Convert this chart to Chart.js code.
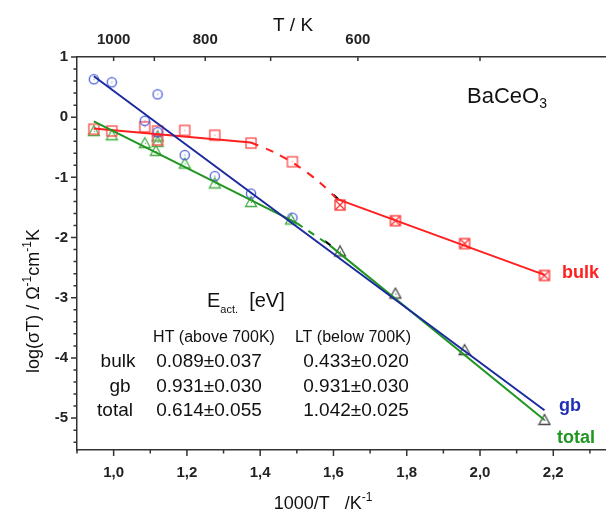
<!DOCTYPE html>
<html>
<head>
<meta charset="utf-8">
<script src="https://cdn.jsdelivr.net/npm/chart.js@4.4.0/dist/chart.umd.min.js"></script>
<style>
  html, body { margin: 0; padding: 0; background: #fff; overflow: hidden; }
</style>
</head>
<body>
<!-- a bit wider than the window: the frame runs off the right edge in the original -->
<canvas id="chart" width="620" height="516"></canvas>
<script>
// ---- values ----
// bulk, high T (open squares)
const bulkHTx = [0.946, 0.995, 1.085, 1.120, 1.120, 1.194, 1.276, 1.375, 1.488];
const bulkHTy = [-0.20, -0.23, -0.16, -0.23, -0.38, -0.22, -0.30, -0.43, -0.74];
// bulk, low T (crossed squares)
const bulkLTx = [1.618, 1.769, 1.958, 2.176];
const bulkLTy = [-1.46, -1.72, -2.10, -2.63];
// grain boundary (circles)
const gbX = [0.946, 0.995, 1.085, 1.120, 1.120, 1.194, 1.276, 1.375, 1.488];
const gbY = [0.63, 0.58, -0.06, 0.38, -0.25, -0.63, -0.98, -1.27, -1.67];
// total, high T (green triangles)
const totHTx = [0.946, 0.995, 1.085, 1.115, 1.120, 1.120, 1.194, 1.276, 1.375, 1.484];
const totHTy = [-0.23, -0.30, -0.43, -0.56, -0.32, -0.41, -0.77, -1.10, -1.41, -1.70];
// total, low T (grey triangles)
const totLTx = [1.618, 1.769, 1.958, 2.176];
const totLTy = [-2.23, -2.93, -3.87, -5.03];

// fitted lines
const gbFitX = [0.946, 2.176];
const gbFitY = [0.68, -4.87];
const totFitHTx = [0.946, 1.50];
const totFitHTy = [-0.07, -1.76];
const totJoinX = [1.50, 1.59];
const totJoinY = [-1.76, -2.13];
const totFitLTx = [1.59, 2.176];
const totFitLTy = [-2.13, -5.03];
const bulkFitHTx = [0.946, 1.375];
const bulkFitHTy = [-0.19, -0.42];
const bulkJoinX = [1.375, 1.44, 1.50, 1.56, 1.605];
const bulkJoinY = [-0.42, -0.59, -0.80, -1.07, -1.33];
const bulkFitLTx = [1.605, 2.176];
const bulkFitLTy = [-1.35, -2.62];
// little black marks at the break points
const markBulkX = [1.600, 1.613];
const markBulkY = [-1.29, -1.36];
const markTotX = [1.577, 1.592];
const markTotY = [-2.06, -2.13];

// axis ticks
const xTicks = [1.0, 1.2, 1.4, 1.6, 1.8, 2.0, 2.2];
const yTicks = [-5, -4, -3, -2, -1, 0, 1];
const topT = [1000, 900, 800, 700, 600, 500];
const topLabelled = [1000, 800, 600];

const FONT = "'Liberation Sans', Arial, sans-serif";
const RED = '#ff1f1f', BLUE = '#1b2a9e', GREEN = '#1f961f';

const pts = (xs, ys) => xs.map((x, i) => ({ x: x, y: ys[i] }));

// marker images
function marker(size, draw) {
    const c = document.createElement('canvas');
    c.width = size; c.height = size;
    const g = c.getContext('2d');
    draw(g, size / 2);
    return c;
}
function dot(g, h, col) {
    g.fillStyle = col;
    g.fillRect(h - 0.5, h - 0.5, 1, 1);
}
const circleImg = marker(12, (g, h) => {
    g.strokeStyle = '#4b5ed8'; g.lineWidth = 1.3;
    g.beginPath(); g.arc(h, h, 4.6, 0, Math.PI * 2); g.stroke();
    dot(g, h, '#4b5ed8');
});
const squareImg = marker(14, (g, h) => {
    g.strokeStyle = '#ff4848'; g.lineWidth = 1.3;
    g.strokeRect(2, 2, 10, 10);
    dot(g, h, '#ff4848');
});
const xSquareImg = marker(14, (g, h) => {
    g.strokeStyle = '#ff3030'; g.lineWidth = 1.3;
    g.strokeRect(2, 2, 10, 10);
    g.beginPath();
    g.moveTo(2.5, 2.5); g.lineTo(11.5, 11.5);
    g.moveTo(11.5, 2.5); g.lineTo(2.5, 11.5);
    g.stroke();
});
function triImg(col) {
    return marker(14, (g, h) => {
        g.strokeStyle = col; g.lineWidth = 1.3;
        g.beginPath();
        g.moveTo(h, 1.5); g.lineTo(12.5, 11.5); g.lineTo(1.5, 11.5); g.closePath();
        g.stroke();
        dot(g, 7.5, col);
    });
}
const greenTri = triImg('#45ad45');
const greyTri = triImg('#444');

function pointSet(data, img) {
    return { data: data, showLine: false, pointStyle: img, pointRadius: 6, order: 2 };
}
function lineSet(data, color, dash, tension) {
    return {
        data: data, showLine: true, pointRadius: 0, borderColor: color,
        borderWidth: 2, borderDash: dash || [], tension: tension || 0, order: 1
    };
}

// ticks drawn by hand so minor ones can be shorter, plus all text labels
const decorations = {
    id: 'decorations',
    afterDraw(chart) {
        const ctx = chart.ctx, ca = chart.chartArea;
        const xs = chart.scales.x, ys = chart.scales.y, xt = chart.scales.x2;
        ctx.save();
        ctx.strokeStyle = '#333';
        ctx.lineWidth = 1.5;
        ctx.beginPath();
        for (let i = 9; i <= 23; i++) {
            const px = xs.getPixelForValue(i / 10);
            const len = i % 2 === 0 ? 6 : 3.5;
            ctx.moveTo(px, ca.bottom); ctx.lineTo(px, ca.bottom + len);
        }
        for (let i = -27; i <= 5; i++) {
            const py = ys.getPixelForValue(i / 5);
            const len = i % 5 === 0 ? 6 : 3.5;
            ctx.moveTo(ca.left - len, py); ctx.lineTo(ca.left, py);
        }
        topT.forEach(T => {
            const px = xt.getPixelForValue(1000 / T);
            ctx.moveTo(px, ca.top); ctx.lineTo(px, ca.top + 4);
        });
        ctx.stroke();

        ctx.textBaseline = 'alphabetic';
        ctx.fillStyle = '#111';
        // axis titles
        rich(ctx, 293, 31, [['T / K', 19]], 'center');
        rich(ctx, 323, 509, [['1000/T   /K', 18], ['-1', 12, -8]], 'center');
        ctx.save();
        ctx.translate(32, 301);
        ctx.rotate(-Math.PI / 2);
        rich(ctx, 0, 7, [['log(\u03c3T) / \u03a9', 18], ['-1', 12, -8], ['cm', 18], ['-1', 12, -8], ['K', 18]], 'center');
        ctx.restore();

        // compound name
        rich(ctx, 467, 103, [['BaCeO', 22], ['3', 14, 5]], 'left');

        // series names
        ctx.fillStyle = RED;
        rich(ctx, 562, 278, [['bulk', 18, 0, 'bold']], 'left');
        ctx.fillStyle = '#1f2fb4';
        rich(ctx, 559, 411, [['gb', 18, 0, 'bold']], 'left');
        ctx.fillStyle = GREEN;
        rich(ctx, 557, 443, [['total', 18, 0, 'bold']], 'left');

        // activation energy table
        ctx.fillStyle = '#111';
        rich(ctx, 207, 307, [['E', 20], ['act.', 11, 6], ['  [eV]', 20]], 'left');
        rich(ctx, 214, 342, [['HT (above 700K)', 16]], 'center');
        rich(ctx, 353, 342, [['LT (below 700K)', 16]], 'center');
        const rows = [['bulk', 118, 367, '0.089\u00b10.037', '0.433\u00b10.020'],
                      ['gb', 120, 392, '0.931\u00b10.030', '0.931\u00b10.030'],
                      ['total', 115, 416, '0.614\u00b10.055', '1.042\u00b10.025']];
        rows.forEach(r => {
            rich(ctx, r[1], r[2], [[r[0], 19]], 'center');
            rich(ctx, 209, r[2], [[r[3], 19]], 'center');
            rich(ctx, 356, r[2], [[r[4], 19]], 'center');
        });
        ctx.restore();
    }
};

function rich(ctx, x, y, parts, align) {
    let w = 0;
    parts.forEach(p => {
        ctx.font = (p[3] || 'normal') + ' ' + p[1] + 'px ' + FONT;
        w += ctx.measureText(p[0]).width;
    });
    let cx = align === 'center' ? x - w / 2 : align === 'right' ? x - w : x;
    ctx.textAlign = 'left';
    parts.forEach(p => {
        ctx.font = (p[3] || 'normal') + ' ' + p[1] + 'px ' + FONT;
        ctx.fillText(p[0], cx, y + (p[2] || 0));
        cx += ctx.measureText(p[0]).width;
    });
}

const tickFont = { family: FONT, size: 15, weight: 'bold' };
const X_MAX = 2.363;

new Chart(document.getElementById('chart'), {
    type: 'scatter',
    data: {
        datasets: [
            lineSet(pts(gbFitX, gbFitY), BLUE),
            lineSet(pts(totFitHTx, totFitHTy), GREEN),
            lineSet(pts(totJoinX, totJoinY), GREEN, [7, 7]),
            lineSet(pts(totFitLTx, totFitLTy), GREEN),
            lineSet(pts(bulkFitHTx, bulkFitHTy), RED),
            lineSet(pts(bulkJoinX, bulkJoinY), RED, [8, 8], 0.3),
            lineSet(pts(bulkFitLTx, bulkFitLTy), RED),
            lineSet(pts(markBulkX, markBulkY), '#000'),
            lineSet(pts(markTotX, markTotY), '#000'),
            pointSet(pts(gbX, gbY), circleImg),
            pointSet(pts(bulkHTx, bulkHTy), squareImg),
            pointSet(pts(bulkLTx, bulkLTy), xSquareImg),
            pointSet(pts(totHTx, totHTy), greenTri),
            pointSet(pts(totLTx, totLTy), greyTri)
        ]
    },
    options: {
        responsive: false,
        animation: false,
        devicePixelRatio: 1,
        layout: { padding: 0 },
        plugins: { legend: { display: false }, tooltip: { enabled: false } },
        scales: {
            x: {
                type: 'linear', position: 'bottom', min: 0.9, max: X_MAX,
                afterBuildTicks: s => { s.ticks = xTicks.map(v => ({ value: v })); },
                afterFit: s => { s.height = 66; },
                ticks: {
                    callback: v => v.toFixed(1).replace('.', ','),
                    font: tickFont, color: '#222', padding: 14, maxRotation: 0, autoSkip: false
                },
                grid: { display: false, drawTicks: false },
                border: { display: true, color: '#333', width: 1.5 }
            },
            x2: {
                type: 'linear', position: 'top', min: 0.9, max: X_MAX,
                afterBuildTicks: s => { s.ticks = topT.map(T => ({ value: 1000 / T })); },
                afterFit: s => { s.height = 57; },
                ticks: {
                    callback: v => {
                        const T = Math.round(1000 / v);
                        return topLabelled.includes(T) ? String(T) : '';
                    },
                    font: tickFont, color: '#222', padding: 8, maxRotation: 0, autoSkip: false
                },
                grid: { display: false, drawTicks: false },
                border: { display: true, color: '#333', width: 1.5 }
            },
            y: {
                type: 'linear', position: 'left', min: -5.53, max: 1.0,
                afterBuildTicks: s => { s.ticks = yTicks.map(v => ({ value: v })); },
                afterFit: s => { s.width = 77; },
                ticks: { callback: v => String(v), font: tickFont, color: '#222', padding: 9 },
                grid: { display: false, drawTicks: false },
                border: { display: true, color: '#333', width: 1.5 }
            }
        }
    },
    plugins: [decorations]
});
</script>
</body>
</html>
